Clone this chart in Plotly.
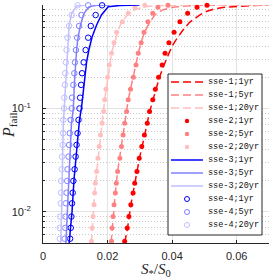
import plotly.graph_objects as go

# ---------------- data ----------------
# sse-1 : dashed lines
sse1_1yr_x = [0.0253, 0.0262, 0.0272, 0.0284, 0.0299, 0.0315, 0.0330, 0.0346, 0.0361, 0.0373,
              0.0386, 0.0398, 0.0410, 0.0433, 0.0454, 0.0485, 0.0506, 0.0530, 0.0556, 0.0608,
              0.0650, 0.0700]
sse1_1yr_p = [0.005, 0.0070, 0.0117, 0.0191, 0.0332, 0.0554, 0.0925, 0.138, 0.2015, 0.255,
              0.325, 0.390, 0.450, 0.570, 0.680, 0.800, 0.865, 0.915, 0.946, 0.978,
              0.990, 0.997]
sse1_5yr_x = [0.0211, 0.0217, 0.0224, 0.0231, 0.0243, 0.0253, 0.0264, 0.0274, 0.0284, 0.0296,
              0.0309, 0.0324, 0.0346, 0.0370, 0.0407, 0.0469, 0.0546, 0.0700]
sse1_5yr_p = [0.005, 0.009, 0.0152, 0.0245, 0.0428, 0.0719, 0.121, 0.169, 0.236, 0.352,
              0.491, 0.627, 0.800, 0.895, 0.956, 0.989, 0.998, 1.0]
sse1_20yr_x = [0.0150, 0.0155, 0.0160, 0.0167, 0.0174, 0.0183, 0.0191, 0.0198, 0.0205, 0.0213,
               0.0222, 0.0231, 0.0244, 0.0262, 0.0284, 0.0315, 0.0361, 0.0450, 0.0700]
sse1_20yr_p = [0.005, 0.009, 0.0154, 0.0255, 0.0428, 0.0719, 0.121, 0.169, 0.236, 0.352,
               0.430, 0.550, 0.690, 0.800, 0.900, 0.960, 0.990, 0.999, 1.0]

# sse-2 : dots (shared probability levels)
sse2_p = [0.993, 0.950, 0.830, 0.690, 0.545, 0.432, 0.341, 0.263, 0.200, 0.153, 0.121, 0.0932,
          0.0719, 0.0554, 0.0428, 0.0330, 0.0245, 0.0189, 0.0152, 0.0117, 0.0090, 0.0070, 0.0052]
sse2_1yr_x = [0.0508, 0.0477, 0.0448, 0.0424, 0.0406, 0.0390, 0.0378, 0.0369, 0.0358, 0.0348,
              0.0340, 0.0330, 0.0323, 0.0314, 0.0306, 0.0298, 0.0291, 0.0284, 0.0279, 0.0272,
              0.0266, 0.0261, 0.0253]
sse2_5yr_x = [0.0387, 0.0356, 0.0340, 0.0325, 0.0313, 0.0304, 0.0295, 0.0288, 0.0280, 0.0271,
              0.0264, 0.0259, 0.0253, 0.0248, 0.0243, 0.0238, 0.0231, 0.0227, 0.0224, 0.0220,
              0.0217, 0.0214, 0.0212]
sse2_20yr_x = [0.0315, 0.0285, 0.0264, 0.0246, 0.0228, 0.0220, 0.0212, 0.0205, 0.0200, 0.0195,
               0.0191, 0.0188, 0.0183, 0.0178, 0.0174, 0.0170, 0.0166, 0.0162, 0.0160, 0.0158,
               0.0155, 0.0152, 0.0150]

# sse-3 : solid lines
sse3_1yr_x = [0.0081, 0.0090, 0.0096, 0.0109, 0.0113, 0.0119, 0.0127, 0.0135, 0.0142, 0.0152,
              0.0166, 0.0181, 0.0202, 0.0238, 0.0299]
sse3_1yr_p = [0.005, 0.0101, 0.0204, 0.058, 0.0774, 0.100, 0.169, 0.281, 0.367, 0.491,
              0.641, 0.800, 0.963, 0.990, 1.0]
sse3_5yr_x = [0.0071, 0.0076, 0.0088, 0.0094, 0.0097, 0.0104, 0.0109, 0.0116, 0.0127, 0.0143,
              0.0166, 0.0207]
sse3_5yr_p = [0.005, 0.0101, 0.070, 0.100, 0.169, 0.367, 0.491, 0.641, 0.831, 0.963,
              0.993, 1.0]
sse3_20yr_x = [0.00546, 0.00577, 0.00627, 0.00657, 0.00679, 0.0075, 0.0081, 0.0089, 0.0104, 0.0130]
sse3_20yr_p = [0.005, 0.0101, 0.069, 0.100, 0.169, 0.367, 0.641, 0.831, 0.978, 1.0]

# sse-4 : open circles (shared probability levels)
sse4_p = [0.993, 0.800, 0.627, 0.483, 0.367, 0.279, 0.219, 0.169, 0.127, 0.100, 0.0774,
          0.0576, 0.0444, 0.0342, 0.0258, 0.0199, 0.0153, 0.0121, 0.0090, 0.0070, 0.0055]
sse4_1yr_x = [0.0183, 0.0163, 0.0148, 0.0140, 0.0132, 0.0126, 0.0121, 0.0118, 0.0115, 0.0113,
              0.0110, 0.0107, 0.0104, 0.0101, 0.0098, 0.0094, 0.0092, 0.0090, 0.0088, 0.0086,
              0.0084]
sse4_5yr_x = [0.0140, 0.0119, 0.0112, 0.0106, 0.0102, 0.0099, 0.0097, 0.0094, 0.0090, 0.0089,
              0.0086, 0.0083, 0.0081, 0.0079, 0.0076, 0.0075, 0.0073, 0.0071, 0.0070, 0.0069,
              0.0067]
sse4_20yr_x = [0.0107, 0.0089, 0.0081, 0.0076, 0.0073, 0.0071, 0.0069, 0.0068, 0.0066, 0.0065,
               0.0063, 0.0062, 0.0061, 0.0059, 0.0058, 0.0056, 0.0056, 0.0055, 0.0053, 0.0052,
               0.0052]

legend_labels = ["sse-1;1yr", "sse-1;5yr", "sse-1;20yr",
                 "sse-2;1yr", "sse-2;5yr", "sse-2;20yr",
                 "sse-3;1yr", "sse-3;5yr", "sse-3;20yr",
                 "sse-4;1yr", "sse-4;5yr", "sse-4;20yr"]

x_tickvals = [0, 0.02, 0.04, 0.06]
x_ticktext = ["0", "0.02", "0.04", "0.06"]
y_tickvals = [0.01, 0.1, 1]
y_ticktext = ["10<sup>-2</sup>", "10<sup>-1</sup>", "10<sup>0</sup>"]
y_minorvals = [0.005, 0.006, 0.007, 0.008, 0.009,
               0.02, 0.03, 0.04, 0.05, 0.06, 0.07, 0.08, 0.09,
               0.2, 0.3, 0.4, 0.5, 0.6, 0.7, 0.8, 0.9]

# ---------------- styling ----------------
W, H = 269, 279
ML, MR, MT, MB = 43, 0, 5, 36
PW, PH = W - ML - MR, H - MT - MB

RED = ["#ff0000", "#ff8080", "#ffbfbf"]
BLUE = ["#0000ff", "#8080ff", "#bfbfff"]
DASH = "8px,4px"
AXC = "#262626"

fig = go.Figure()


def add_line(x, p, color, dash):
    fig.add_trace(go.Scatter(x=x, y=p, mode="lines",
                             line=dict(color=color, width=1.5, dash=dash),
                             showlegend=False, hoverinfo="skip"))


def add_marks(x, p, color, kind):
    if kind == "dot":
        mk = dict(symbol="circle", size=5, color=color, line=dict(width=0))
    else:
        mk = dict(symbol="circle-open", size=5.5, color=color, line=dict(width=1, color=color))
    fig.add_trace(go.Scatter(x=x, y=p, mode="markers", marker=mk, cliponaxis=False,
                             showlegend=False, hoverinfo="skip"))


add_line(sse1_1yr_x, sse1_1yr_p, RED[0], DASH)
add_line(sse1_5yr_x, sse1_5yr_p, RED[1], DASH)
add_line(sse1_20yr_x, sse1_20yr_p, RED[2], DASH)
add_marks(sse2_1yr_x, sse2_p, RED[0], "dot")
add_marks(sse2_5yr_x, sse2_p, RED[1], "dot")
add_marks(sse2_20yr_x, sse2_p, RED[2], "dot")
add_line(sse3_1yr_x, sse3_1yr_p, BLUE[0], "solid")
add_line(sse3_5yr_x, sse3_5yr_p, BLUE[1], "solid")
add_line(sse3_20yr_x, sse3_20yr_p, BLUE[2], "solid")
add_marks(sse4_1yr_x, sse4_p, BLUE[0], "circle")
add_marks(sse4_5yr_x, sse4_p, BLUE[1], "circle")
add_marks(sse4_20yr_x, sse4_p, BLUE[2], "circle")


def px(xp):
    return (xp - ML) / PW


def py(yp):
    return (H - MB - yp) / PH


shapes = []
annots = []
# legend box
shapes.append(dict(type="rect", xref="paper", yref="paper", layer="above",
                   x0=px(168), x1=px(262), y0=py(235), y1=py(74),
                   fillcolor="white", line=dict(color=AXC, width=1)))
styles = []
for i in range(3):
    styles.append(("line", RED[i], DASH))
for i in range(3):
    styles.append(("dot", RED[i], None))
for i in range(3):
    styles.append(("line", BLUE[i], "solid"))
for i in range(3):
    styles.append(("circle", BLUE[i], None))

for i, (lab, (kind, col, dash)) in enumerate(zip(legend_labels, styles)):
    yc = 82 + 13 * i
    if kind == "line":
        shapes.append(dict(type="line", xref="paper", yref="paper", layer="above",
                           x0=px(171), x1=px(203), y0=py(yc), y1=py(yc),
                           line=dict(color=col, width=1.5, dash=dash)))
    else:
        r = 2.2 if kind == "dot" else 2.5
        shapes.append(dict(type="circle", xref="paper", yref="paper", layer="above",
                           xsizemode="pixel", ysizemode="pixel",
                           xanchor=px(187), yanchor=py(yc),
                           x0=-r, x1=r, y0=-r, y1=r,
                           fillcolor=col if kind == "dot" else "rgba(0,0,0,0)",
                           line=dict(color=col, width=0 if kind == "dot" else 1)))
    annots.append(dict(text=lab, xref="paper", yref="paper", x=px(206), y=py(yc),
                       xanchor="left", yanchor="middle", showarrow=False,
                       font=dict(family="Liberation Mono", size=8.5, color="#111111")))

# axis titles
annots.append(dict(text="<i>P</i><sub>fail</sub>", xref="paper", yref="paper",
                   x=px(9), y=py(125), xanchor="center", yanchor="middle", textangle=-90,
                   showarrow=False, font=dict(family="Liberation Serif", size=16, color=AXC)))
annots.append(dict(text="<i>S</i><sub>*</sub>/<i>S</i><sub>0</sub>", xref="paper", yref="paper",
                   x=px(156), y=py(270), xanchor="center", yanchor="middle",
                   showarrow=False, font=dict(family="Liberation Serif", size=15, color=AXC)))

fig.update_layout(
    width=W, height=H,
    margin=dict(l=ML, r=MR, t=MT, b=MB, pad=0),
    paper_bgcolor="white", plot_bgcolor="white",
    showlegend=False,
    shapes=shapes, annotations=annots,
    xaxis=dict(range=[0, 0.07], tickmode="array", tickvals=x_tickvals, ticktext=x_ticktext,
               showgrid=True, gridcolor="#e2e2e2", gridwidth=1, zeroline=False,
               showline=True, linecolor=AXC, linewidth=1,
               ticks="inside", ticklen=3, tickcolor=AXC, ticklabelstandoff=3,
               tickfont=dict(family="Liberation Sans", size=11, color=AXC)),
    yaxis=dict(type="log", range=[-2.30103, 0], tickmode="array", tickvals=y_tickvals,
               ticktext=y_ticktext,
               showgrid=True, gridcolor="#e2e2e2", gridwidth=1, zeroline=False,
               showline=True, linecolor=AXC, linewidth=1,
               ticks="inside", ticklen=3, tickcolor=AXC, ticklabelstandoff=9,
               tickfont=dict(family="Liberation Sans", size=11, color=AXC),
               minor=dict(tickmode="array", tickvals=y_minorvals, showgrid=True,
                          gridcolor="#c8c8c8", griddash="1px,2px", gridwidth=1,
                          ticks="inside", ticklen=2, tickcolor=AXC)),
)

fig.write_html("out.html", config={"displayModeBar": False},
               post_script="document.body.style.margin='0px';")
